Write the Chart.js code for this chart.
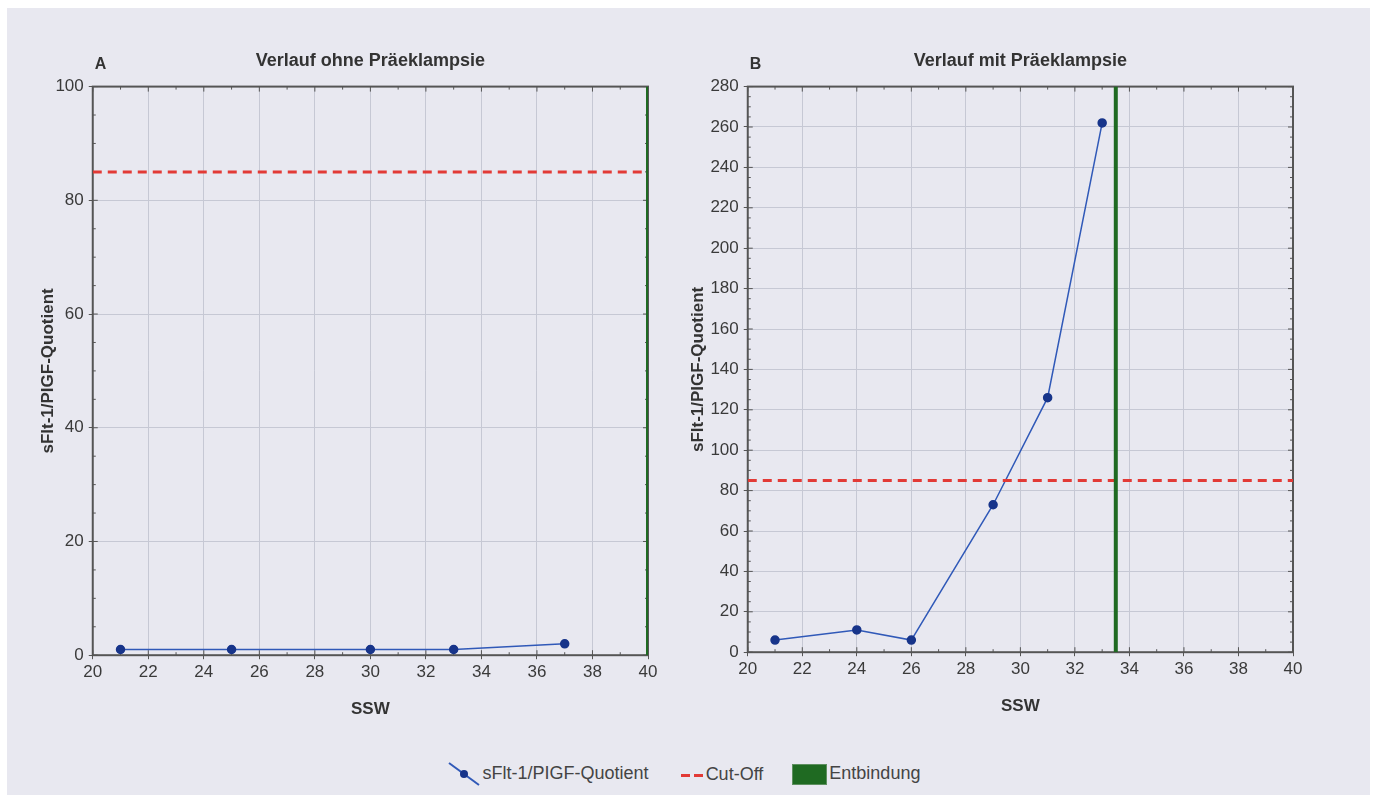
<!DOCTYPE html>
<html>
<head>
<meta charset="utf-8">
<script src="https://cdn.jsdelivr.net/npm/chart.js@4"></script>
<style>
  html, body { margin: 0; padding: 0; background: #ffffff; }
  #panel {
    position: absolute; left: 7px; top: 8px; width: 1363px; height: 787px;
    background: #e8e8f0; font-family: "Liberation Sans", Arial, sans-serif;
  }
  .box { position: absolute; top: 37px; }
  #boxA { left: 27px; width: 654px; height: 679px; }
  #boxB { left: 677px; width: 654px; height: 676px; }
  #legend {
    position: absolute; top: 752px; left: -5px; width: 1363px; text-align: center;
    font-size: 18px; color: #444;
  }
  #legend span.item { display: inline-block; margin: 0 12px; vertical-align: middle; }
  #legend span.item.first { margin-right: 14px; }
  #legend .sym { display: inline-block; vertical-align: middle; margin-right: 2px; }
</style>
</head>
<body>
<div id="panel">
  <div class="box" id="boxA"><canvas id="chartA"></canvas></div>
  <div class="box" id="boxB"><canvas id="chartB"></canvas></div>
  <div id="legend">
    <span class="item first"><canvas class="sym" id="symLine" width="34" height="28"></canvas>sFlt-1/PIGF-Quotient</span>
    <span class="item"><canvas class="sym" id="symCut" width="24" height="10"></canvas>Cut-Off</span>
    <span class="item"><span class="sym" style="width:33px;height:19px;background:#1f6a22;border:1px solid #5d8f5f"></span>Entbindung</span>
  </div>
</div>
<script>
// Werte
const weeksA = [21, 25, 30, 33, 37]
const ratioA = [1, 1, 1, 1, 2]
const weeksB = [21, 24, 26, 29, 31, 33]
const ratioB = [6, 11, 6, 73, 126, 262]
const cutOff = 85
const deliveryA = 40
const deliveryB = 33.5
const xRange = [20, 40]
const yMaxA = 100
const yMaxB = 280

const blue = '#3059b8'
const navy = '#17348a'
const red = '#e23a36'
const green = '#1f6a22'

Chart.defaults.font.family = '"Liberation Sans", Arial, sans-serif'
Chart.defaults.color = '#3a3a3a'

// Rahmen, kleine Striche nach innen, Buchstabe A/B
const framePlugin = {
  id: 'frame',
  beforeDatasetsDraw(chart, args, opts) {
    const { ctx, chartArea: a, scales } = chart
    ctx.save()
    ctx.strokeStyle = '#555'
    ctx.lineWidth = 2
    ctx.strokeRect(a.left, a.top, a.right - a.left, a.bottom - a.top)
    ctx.lineWidth = 1
    ctx.beginPath()
    for (let v = scales.x.min; v <= scales.x.max; v += 1) {
      const px = scales.x.getPixelForValue(v)
      const len = v % 2 === 0 ? 5 : 3
      ctx.moveTo(px, a.top); ctx.lineTo(px, a.top + len)
      ctx.moveTo(px, a.bottom); ctx.lineTo(px, a.bottom - len)
    }
    for (let v = scales.y.min; v <= scales.y.max; v += 5) {
      const py = scales.y.getPixelForValue(v)
      const len = v % 20 === 0 ? 5 : 3
      ctx.moveTo(a.left, py); ctx.lineTo(a.left + len, py)
      ctx.moveTo(a.right, py); ctx.lineTo(a.right - len, py)
    }
    ctx.stroke()
    ctx.fillStyle = '#333'
    ctx.font = 'bold 16px "Liberation Sans", Arial, sans-serif'
    ctx.textBaseline = 'bottom'
    ctx.fillText(opts.letter, a.left + 2, a.top - 14)
    ctx.restore()
  }
}

function makeChart(id, letter, title, weeks, ratio, yMax, delivery, padRight, titleGap) {
  const pts = weeks.map((w, i) => ({ x: w, y: ratio[i] }))
  return new Chart(document.getElementById(id), {
    type: 'line',
    data: {
      datasets: [
        {
          label: 'Entbindung',
          data: [{ x: delivery, y: 0 }, { x: delivery, y: yMax }],
          borderColor: green, borderWidth: 4, pointRadius: 0
        },
        {
          label: 'Cut-Off',
          data: [{ x: xRange[0], y: cutOff }, { x: xRange[1], y: cutOff }],
          borderColor: red, borderWidth: 3, borderDash: [9, 6], pointRadius: 0
        },
        {
          label: 'sFlt-1/PIGF-Quotient',
          data: pts,
          borderColor: blue, borderWidth: 1.5,
          pointRadius: 4, pointBackgroundColor: navy, pointBorderColor: navy
        }
      ]
    },
    options: {
      responsive: true,
      maintainAspectRatio: false,
      animation: false,
      layout: { padding: { left: 0, right: padRight, top: 0, bottom: 0 } },
      plugins: {
        legend: { display: false },
        tooltip: { enabled: false },
        title: {
          display: true, text: title, color: '#333', fullSize: false,
          font: { size: 18, weight: 'bold' }, padding: { top: 5, bottom: 15 }
        },
        frame: { letter }
      },
      scales: {
        x: {
          type: 'linear', min: xRange[0], max: xRange[1],
          ticks: { stepSize: 2, font: { size: 17 }, color: '#3a3a3a', padding: 3 },
          grid: { color: '#c6c8d4', tickLength: 4, tickColor: '#555' },
          border: { display: false },
          title: { display: true, text: 'SSW', font: { size: 17, weight: 'bold' }, color: '#333', padding: { top: 14 } }
        },
        y: {
          min: 0, max: yMax,
          ticks: { stepSize: 20, font: { size: 17 }, color: '#3a3a3a', padding: 5 },
          grid: { color: '#c6c8d4', tickLength: 4, tickColor: '#555' },
          border: { display: false },
          title: { display: true, text: 'sFlt-1/PIGF-Quotient', font: { size: 17, weight: 'bold' }, color: '#333', padding: { top: 4, bottom: titleGap } }
        }
      }
    },
    plugins: [framePlugin]
  })
}

makeChart('chartA', 'A', 'Verlauf ohne Präeklampsie', weeksA, ratioA, yMaxA, deliveryA, 40, -8)
makeChart('chartB', 'B', 'Verlauf mit Präeklampsie', weeksB, ratioB, yMaxB, deliveryB, 45, -3)

// Legendensymbole
const l1 = document.getElementById('symLine').getContext('2d')
l1.strokeStyle = blue; l1.lineWidth = 2
l1.beginPath(); l1.moveTo(2, 3); l1.lineTo(32, 25); l1.stroke()
l1.fillStyle = navy; l1.beginPath(); l1.arc(17, 14, 4, 0, Math.PI * 2); l1.fill()
const l2 = document.getElementById('symCut').getContext('2d')
l2.fillStyle = red; l2.fillRect(1, 4, 9, 3); l2.fillRect(14, 4, 9, 3)
</script>
</body>
</html>
